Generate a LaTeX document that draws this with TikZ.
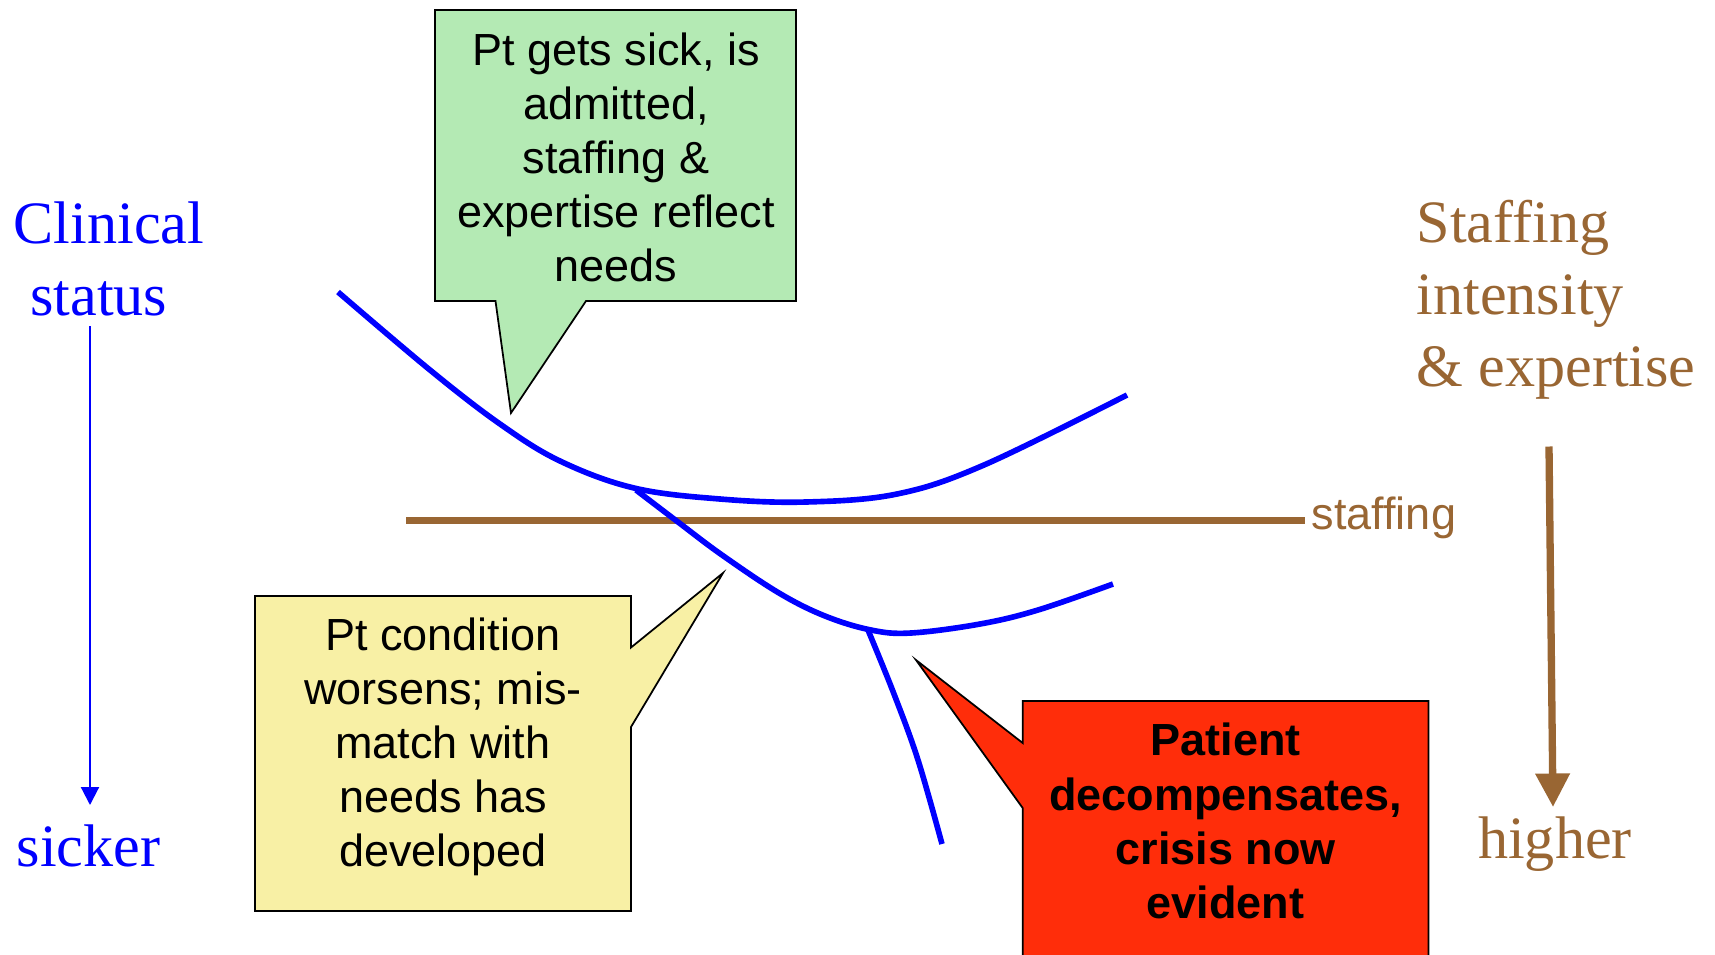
\documentclass[tikz,border=0pt]{standalone}
\usepackage{fontspec}
\setmainfont{Liberation Serif}
\newfontfamily\arialf{Liberation Sans}
\usetikzlibrary{arrows.meta}
\definecolor{brownc}{RGB}{153,102,51}
\definecolor{greenf}{RGB}{180,234,180}
\definecolor{yellowf}{RGB}{248,240,165}
\definecolor{redf}{RGB}{255,45,10}
\begin{document}
\begin{tikzpicture}[x=0.01cm,y=-0.01cm,
  callout/.style={draw=black, line width=0.5pt, line join=miter},
  ctext/.style={font=\arialf\fontsize{12.8}{15.4}\selectfont, align=center, inner sep=0pt},
  serifl/.style={font=\fontsize{17.1}{20.5}\selectfont, inner sep=0pt},
  curve/.style={blue, line width=1.6pt, line cap=butt, line join=round}]
\useasboundingbox (0,0) rectangle (1715,954);
\clip (0,0) rectangle (1715,954);

% callout shapes
\path[callout, fill=greenf] (435,10) -- (796,10) -- (796,301) -- (586,301) -- (511,413) -- (495.5,301) -- (435,301) -- cycle;
\path[callout, fill=yellowf] (255,596) -- (631,596) -- (631,647.5) -- (723,573) -- (631,727) -- (631,911) -- (255,911) -- cycle;
\path[callout, fill=redf] (1022.7,701) -- (1428.5,701) -- (1428.5,960) -- (1022.7,960) -- (1022.7,808) -- (916,660) -- (1022.7,743) -- cycle;

% callout texts
\node[ctext] (green) at (616,157.5) {Pt gets sick, is\\admitted,\\staffing \&\\expertise reflect\\needs};
\node[ctext] (yellow) at (443,747) {Pt condition\\worsens; mis-\\match with\\needs has\\developed};
\node[ctext, font=\arialf\bfseries\fontsize{12.8}{15.4}\selectfont] (red) at (1225.6,821) {Patient\\decompensates,\\crisis now\\evident};

% staffing line
\node[font=\arialf\fontsize{12.8}{15.4}\selectfont, text=brownc, inner sep=0pt, anchor=base west] (stf) at (1311,529) {staffing};
\coordinate (sL) at (406,520.6);
\coordinate (sR) at (1305,520.6);
\draw[brownc, line width=0.075cm] (sL) -- (sR);

% blue curves
\draw[curve] plot[smooth, tension=0.6] coordinates {(338,292) (430,370) (500,424) (560,461) (634,488) (720,499) (806,502) (897,494) (984,465) (1127,395)};
\draw[curve] plot[smooth, tension=0.6] coordinates {(636,490) (678,522) (722,555) (779,593) (825,616) (871,630) (911,633) (980,624) (1038,610) (1113,584)};
\draw[curve] plot[smooth, tension=0.6] coordinates {(868,630) (894,694) (918,760) (942,844)};

% left axis
\node[serifl, text=blue, align=left, anchor=west] (clin) at (13,258.5) {Clinical\\\hspace*{0.165cm}status};
\node[serifl, text=blue, anchor=base] (sick) at (88.6,866) {sicker};
\coordinate (bA) at (90,326);
\coordinate (bB) at (90,805);
\draw[blue, line width=0.6pt, -{Triangle[width=0.18cm,length=0.18cm]}] (bA) -- (bB);

% right axis
\node[serifl, text=brownc, align=left, anchor=west] (stint) at (1416,300) {Staffing\\intensity\\\& expertise};
\node[serifl, text=brownc, anchor=base] (high) at (1555,858.6) {higher};
\coordinate (rA) at (1549,446.5);
\coordinate (rB) at (1553,807);
\draw[brownc, line width=0.073cm, -{Triangle[width=0.33cm,length=0.335cm]}] (rA) -- (rB);
\end{tikzpicture}
\end{document}
